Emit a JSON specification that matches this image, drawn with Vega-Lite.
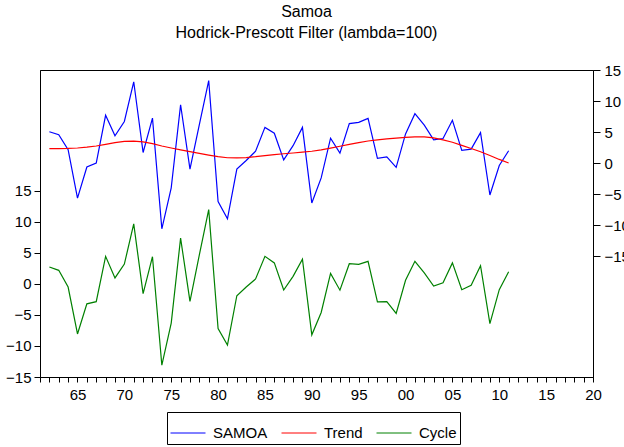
{
  "$schema": "https://vega.github.io/schema/vega-lite/v6.json",
  "width": 553,
  "height": 307,
  "autosize": "none",
  "padding": {"left": 40, "top": 70, "right": 31, "bottom": 70},
  "background": "white",
  "config": {
    "font": "Liberation Sans",
    "view": {"stroke": "black", "strokeWidth": 1},
    "axis": {"grid": false, "domainColor": "black", "tickColor": "black", "labelColor": "black", "labelFont": "Liberation Sans", "labelFontSize": 15, "titleFontSize": 0, "domainWidth": 1, "tickWidth": 1}
  },
  "title": {
    "text": ["Samoa", "Hodrick-Prescott Filter (lambda=100)"],
    "font": "Liberation Sans",
    "fontSize": 16,
    "fontWeight": "normal",
    "lineHeight": 21,
    "anchor": "middle",
    "dx": -10,
    "offset": 22,
    "color": "black"
  },
  "data": {
    "values": [
      {"year": 1962, "SAMOA": 5.05, "Trend": 2.33, "Cycle": 2.74},
      {"year": 1963, "SAMOA": 4.56, "Trend": 2.32, "Cycle": 2.2},
      {"year": 1964, "SAMOA": 2.15, "Trend": 2.35, "Cycle": -0.5},
      {"year": 1965, "SAMOA": -5.65, "Trend": 2.42, "Cycle": -8.06},
      {"year": 1966, "SAMOA": -0.65, "Trend": 2.55, "Cycle": -3.2},
      {"year": 1967, "SAMOA": 0.0, "Trend": 2.75, "Cycle": -2.85},
      {"year": 1968, "SAMOA": 7.7, "Trend": 3.02, "Cycle": 4.45},
      {"year": 1969, "SAMOA": 4.4, "Trend": 3.3, "Cycle": 0.97},
      {"year": 1970, "SAMOA": 6.7, "Trend": 3.5, "Cycle": 3.2},
      {"year": 1971, "SAMOA": 13.1, "Trend": 3.52, "Cycle": 9.7},
      {"year": 1972, "SAMOA": 1.7, "Trend": 3.4, "Cycle": -1.56},
      {"year": 1973, "SAMOA": 7.25, "Trend": 3.12, "Cycle": 4.4},
      {"year": 1974, "SAMOA": -10.6, "Trend": 2.75, "Cycle": -13.1},
      {"year": 1975, "SAMOA": -4.0, "Trend": 2.42, "Cycle": -6.3},
      {"year": 1976, "SAMOA": 9.4, "Trend": 2.12, "Cycle": 7.4},
      {"year": 1977, "SAMOA": -0.97, "Trend": 1.85, "Cycle": -2.8},
      {"year": 1978, "SAMOA": 6.2, "Trend": 1.55, "Cycle": 4.7},
      {"year": 1979, "SAMOA": 13.3, "Trend": 1.28, "Cycle": 12.0},
      {"year": 1980, "SAMOA": -6.2, "Trend": 1.02, "Cycle": -7.2},
      {"year": 1981, "SAMOA": -9.0, "Trend": 0.85, "Cycle": -9.85},
      {"year": 1982, "SAMOA": -0.97, "Trend": 0.82, "Cycle": -1.9},
      {"year": 1983, "SAMOA": 0.4, "Trend": 0.88, "Cycle": -0.5},
      {"year": 1984, "SAMOA": 1.9, "Trend": 1.02, "Cycle": 0.8},
      {"year": 1985, "SAMOA": 5.75, "Trend": 1.2, "Cycle": 4.45},
      {"year": 1986, "SAMOA": 4.8, "Trend": 1.36, "Cycle": 3.4},
      {"year": 1987, "SAMOA": 0.5, "Trend": 1.5, "Cycle": -0.97},
      {"year": 1988, "SAMOA": 2.8, "Trend": 1.62, "Cycle": 1.23},
      {"year": 1989, "SAMOA": 5.75, "Trend": 1.75, "Cycle": 4.0},
      {"year": 1990, "SAMOA": -6.45, "Trend": 1.9, "Cycle": -8.2},
      {"year": 1991, "SAMOA": -2.4, "Trend": 2.12, "Cycle": -4.6},
      {"year": 1992, "SAMOA": 4.0, "Trend": 2.4, "Cycle": 1.7},
      {"year": 1993, "SAMOA": 1.6, "Trend": 2.7, "Cycle": -1.0},
      {"year": 1994, "SAMOA": 6.35, "Trend": 3.02, "Cycle": 3.27},
      {"year": 1995, "SAMOA": 6.55, "Trend": 3.3, "Cycle": 3.16},
      {"year": 1996, "SAMOA": 7.2, "Trend": 3.55, "Cycle": 3.65},
      {"year": 1997, "SAMOA": 0.75, "Trend": 3.72, "Cycle": -2.9},
      {"year": 1998, "SAMOA": 1.0, "Trend": 3.88, "Cycle": -2.85},
      {"year": 1999, "SAMOA": -0.7, "Trend": 4.02, "Cycle": -4.74},
      {"year": 2000, "SAMOA": 4.7, "Trend": 4.13, "Cycle": 0.6},
      {"year": 2001, "SAMOA": 7.95, "Trend": 4.22, "Cycle": 3.65},
      {"year": 2002, "SAMOA": 6.1, "Trend": 4.22, "Cycle": 1.8},
      {"year": 2003, "SAMOA": 3.75, "Trend": 4.05, "Cycle": -0.33},
      {"year": 2004, "SAMOA": 3.95, "Trend": 3.72, "Cycle": 0.2},
      {"year": 2005, "SAMOA": 6.9, "Trend": 3.35, "Cycle": 3.4},
      {"year": 2006, "SAMOA": 2.05, "Trend": 2.85, "Cycle": -0.92},
      {"year": 2007, "SAMOA": 2.25, "Trend": 2.35, "Cycle": -0.22},
      {"year": 2008, "SAMOA": 4.9, "Trend": 1.82, "Cycle": 2.95},
      {"year": 2009, "SAMOA": -5.15, "Trend": 1.22, "Cycle": -6.4},
      {"year": 2010, "SAMOA": -0.4, "Trend": 0.58, "Cycle": -0.92},
      {"year": 2011, "SAMOA": 1.98, "Trend": 0.0, "Cycle": 1.98}
    ]
  },
  "encoding": {
    "x": {
      "field": "year",
      "type": "quantitative",
      "scale": {"domain": [1961, 2020], "nice": false, "zero": false},
      "axis": {
        "title": null,
        "values": [1961,1962,1963,1964,1965,1966,1967,1968,1969,1970,1971,1972,1973,1974,1975,1976,1977,1978,1979,1980,1981,1982,1983,1984,1985,1986,1987,1988,1989,1990,1991,1992,1993,1994,1995,1996,1997,1998,1999,2000,2001,2002,2003,2004,2005,2006,2007,2008,2009,2010,2011,2012,2013,2014,2015,2016,2017,2018,2019,2020],
        "labelExpr": "datum.value % 5 == 0 ? substring(toString(datum.value), 2, 4) : ''",
        "labelOverlap": false,
        "labelFlush": false,
        "tickSize": 5,
        "labelPadding": 5
      }
    }
  },
  "layer": [
    {
      "layer": [
        {
          "mark": {"type": "line", "strokeWidth": 1.2},
          "encoding": {
            "y": {
              "field": "SAMOA",
              "type": "quantitative",
              "scale": {"domain": [-34.5, 15], "nice": false, "zero": false},
              "axis": {"orient": "right", "title": null, "values": [-15, -10, -5, 0, 5, 10, 15], "tickSize": 7, "labelPadding": 4}
            },
            "color": {
              "datum": "SAMOA",
              "scale": {"domain": ["SAMOA", "Trend", "Cycle"], "range": ["#0000ff", "#ff0000", "#008000"]},
              "legend": {
                "orient": "none",
                "legendX": 127,
                "legendY": 342,
                "direction": "horizontal",
                "title": null,
                "strokeColor": "black",
                "padding": 3,
                "symbolType": "stroke",
                "symbolSize": 1225,
                "symbolStrokeWidth": 1,
                "labelFont": "Liberation Sans",
                "labelFontSize": 15,
                "labelColor": "black",
                "labelOffset": 7,
                "columnPadding": 11
              }
            }
          }
        },
        {
          "mark": {"type": "line", "strokeWidth": 1.2},
          "encoding": {
            "y": {
              "field": "Trend",
              "type": "quantitative",
              "scale": {"domain": [-34.5, 15], "nice": false, "zero": false},
              "axis": {"orient": "right", "title": null, "values": [-15, -10, -5, 0, 5, 10, 15], "tickSize": 7, "labelPadding": 4}
            },
            "color": {"datum": "Trend"}
          }
        }
      ]
    },
    {
      "mark": {"type": "line", "strokeWidth": 1.2},
      "encoding": {
        "y": {
          "field": "Cycle",
          "type": "quantitative",
          "scale": {"domain": [-15, 34.5], "nice": false, "zero": false},
          "axis": {"orient": "left", "title": null, "values": [-15, -10, -5, 0, 5, 10, 15], "tickSize": 6, "labelPadding": 3}
        },
        "color": {"datum": "Cycle"}
      }
    }
  ],
  "resolve": {"scale": {"y": "independent"}}
}
